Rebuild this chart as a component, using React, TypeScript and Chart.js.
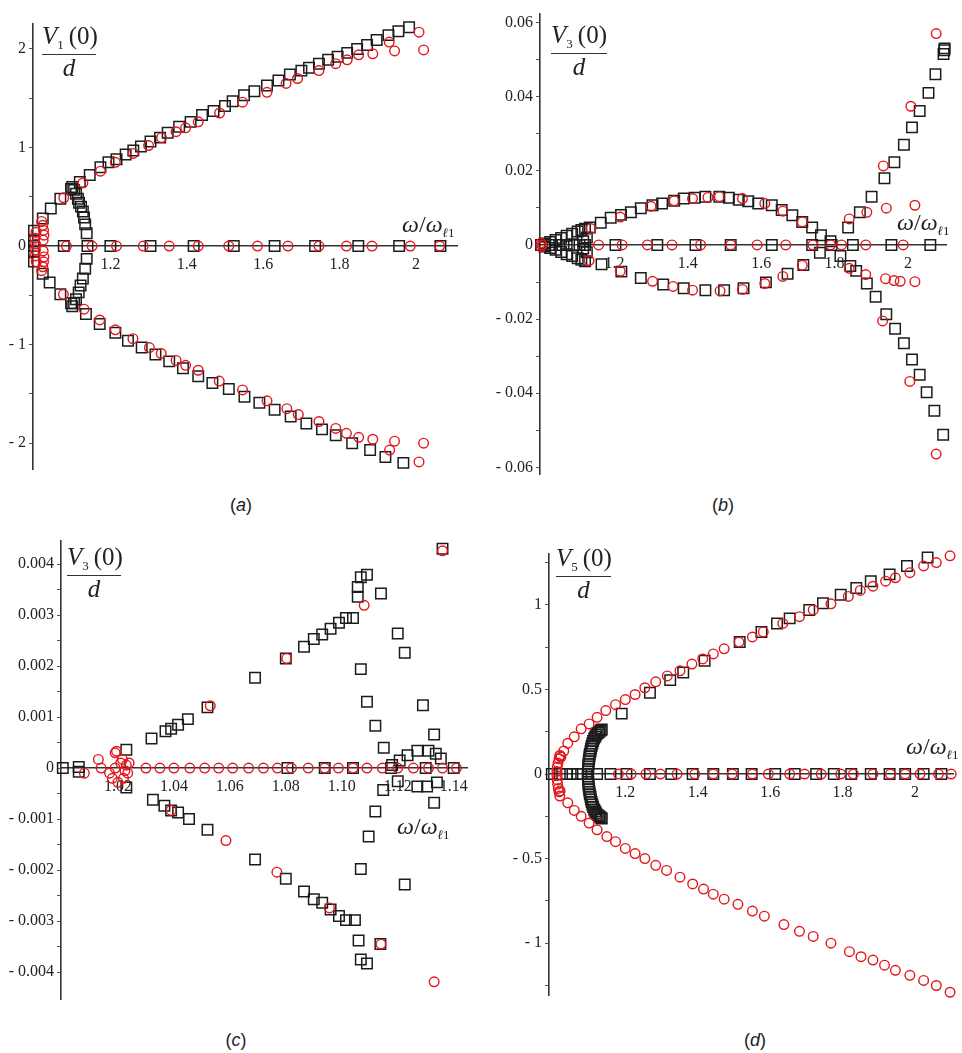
import React, { useEffect, useRef } from "react";
import { Chart, registerables } from "chart.js";
Chart.register(...registerables);

type Pt = [number, number];

const SERIF = "'Liberation Serif', 'Times New Roman', serif";
const SANS = "'Liberation Sans', Arial, sans-serif";
const RED = "#e3161b";
const INK = "#1c1c1c";

Chart.defaults.font.family = SERIF;

// ---------------- panel (a) ----------------
const aXTicks = [1.2, 1.4, 1.6, 1.8, 2];
const aYTicks = [-2, -1.5, -1, -0.5, 0, 0.5, 1, 1.5, 2];
const aYLabels = [-2, -1, 0, 1, 2];
const aSquaresUpper: Pt[] = [
  [1.0, 0.06], [1.0, 0.156], [1.023, 0.28], [1.044, 0.38], [1.069, 0.48], [1.097, 0.58], [1.12, 0.65],
  [1.146, 0.72], [1.174, 0.8], [1.195, 0.85], [1.216, 0.88], [1.24, 0.93], [1.26, 0.97], [1.28, 1.01],
  [1.305, 1.06], [1.33, 1.1], [1.35, 1.15], [1.38, 1.21], [1.41, 1.26], [1.44, 1.33], [1.47, 1.37],
  [1.5, 1.42], [1.52, 1.47], [1.55, 1.53], [1.577, 1.57], [1.61, 1.63], [1.64, 1.68], [1.67, 1.74],
  [1.7, 1.78], [1.72, 1.81], [1.746, 1.85], [1.77, 1.89], [1.795, 1.92], [1.82, 1.96], [1.846, 2.0],
  [1.872, 2.04], [1.897, 2.09], [1.928, 2.14], [1.954, 2.18], [1.982, 2.22],
];
const aSquaresLoop: Pt[] = [
  [1.1, 0.6], [1.105, 0.57], [1.11, 0.53], [1.115, 0.48], [1.118, 0.44], [1.123, 0.4], [1.128, 0.35],
  [1.131, 0.29], [1.134, 0.22], [1.138, 0.13], [1.138, -0.13], [1.134, -0.23], [1.128, -0.33],
  [1.122, -0.4], [1.117, -0.47], [1.11, -0.54], [1.105, -0.58], [1.1, -0.61],
];
const aSquaresLower: Pt[] = [
  [1.0, -0.06], [1.0, -0.156], [1.023, -0.28], [1.041, -0.37], [1.069, -0.49], [1.097, -0.58],
  [1.136, -0.69], [1.172, -0.79], [1.213, -0.88], [1.246, -0.96], [1.282, -1.03], [1.318, -1.1],
  [1.354, -1.17], [1.39, -1.24], [1.43, -1.32], [1.467, -1.39], [1.51, -1.45], [1.551, -1.53],
  [1.59, -1.59], [1.63, -1.66], [1.672, -1.73], [1.713, -1.8], [1.754, -1.86], [1.79, -1.92],
  [1.833, -2.0], [1.88, -2.07], [1.92, -2.14], [1.967, -2.2],
];
const aSquaresAxisX = [1.0, 1.078, 1.14, 1.2, 1.305, 1.418, 1.523, 1.63, 1.736, 1.849, 1.956, 2.064];
const aCirclesUpper: Pt[] = [
  [1.078, 0.49], [1.128, 0.64], [1.174, 0.76], [1.213, 0.85], [1.26, 0.94], [1.3, 1.02], [1.334, 1.1],
  [1.372, 1.16], [1.397, 1.2], [1.43, 1.26], [1.486, 1.35], [1.546, 1.46], [1.61, 1.56], [1.66, 1.65],
  [1.69, 1.7], [1.746, 1.78], [1.79, 1.85], [1.82, 1.89], [1.85, 1.94], [1.887, 1.95], [1.93, 2.07],
  [1.944, 1.98], [2.008, 2.17], [2.02, 1.99],
];
const aCirclesLower: Pt[] = [
  [1.077, -0.49], [1.131, -0.64], [1.172, -0.75], [1.213, -0.85], [1.259, -0.94], [1.302, -1.03],
  [1.333, -1.09], [1.372, -1.16], [1.397, -1.21], [1.43, -1.26], [1.485, -1.37], [1.546, -1.46],
  [1.61, -1.57], [1.662, -1.65], [1.692, -1.71], [1.746, -1.78], [1.79, -1.85], [1.818, -1.9],
  [1.85, -1.94], [1.887, -1.96], [1.931, -2.07], [1.944, -1.98], [2.008, -2.19], [2.02, -2.0],
];
const aCirclesCluster: Pt[] = [
  [1.004, 0.02], [1.003, 0.08], [1.005, 0.14], [1.02, 0.25], [1.023, 0.21], [1.025, 0.16], [1.026, 0.11],
  [1.024, 0.06], [1.004, -0.04], [1.003, -0.1], [1.006, -0.16], [1.02, -0.25], [1.023, -0.21],
  [1.025, -0.16], [1.026, -0.11], [1.024, -0.05],
];
const aCirclesAxisX = [1.085, 1.152, 1.216, 1.286, 1.354, 1.43, 1.51, 1.585, 1.665, 1.746, 1.818, 1.885, 1.985, 2.062];

// ---------------- panel (b) ----------------
const bXTicks = [1.2, 1.4, 1.6, 1.8, 2];
const bYTicks = [-0.06, -0.05, -0.04, -0.03, -0.02, -0.01, 0, 0.01, 0.02, 0.03, 0.04, 0.05, 0.06];
const bYLabels = [-0.06, -0.04, -0.02, 0, 0.02, 0.04, 0.06];
const bSquaresUpper: Pt[] = [
  [1.133, 0.0047], [1.163, 0.006], [1.19, 0.0073], [1.218, 0.0081], [1.245, 0.0088], [1.272, 0.0099],
  [1.304, 0.0107], [1.33, 0.0112], [1.363, 0.0119], [1.389, 0.0125], [1.419, 0.0127], [1.448, 0.013],
  [1.486, 0.013], [1.512, 0.0127], [1.539, 0.0122], [1.565, 0.0118], [1.592, 0.0112], [1.629, 0.0107],
  [1.656, 0.0094], [1.685, 0.008], [1.712, 0.0062], [1.739, 0.0047], [1.763, 0.0026], [1.789, 0.001],
];
const bSquaresLower: Pt[] = [
  [1.165, -0.0052], [1.219, -0.0072], [1.272, -0.0089], [1.333, -0.0107], [1.389, -0.0117],
  [1.448, -0.0122], [1.499, -0.0122], [1.552, -0.0117], [1.613, -0.0101], [1.672, -0.0078],
  [1.715, -0.0054], [1.76, -0.0021], [1.816, -0.003],
];
const bSquaresRightUp: Pt[] = [
  [1.837, 0.0047], [1.869, 0.0088], [1.901, 0.013], [1.936, 0.018], [1.963, 0.0223], [1.989, 0.027],
  [2.011, 0.0317], [2.032, 0.0361], [2.056, 0.041], [2.075, 0.046], [2.097, 0.0515], [2.099, 0.0525],
  [2.1, 0.053],
];
const bSquaresRightDown: Pt[] = [
  [1.843, -0.0057], [1.859, -0.007], [1.888, -0.0104], [1.912, -0.014], [1.941, -0.0187],
  [1.965, -0.0226], [1.989, -0.0265], [2.011, -0.0309], [2.032, -0.035], [2.051, -0.0397],
  [2.072, -0.0447], [2.096, -0.0512],
];
const bSquaresCluster: Pt[] = [
  [1.0, 0], [1.01, 0.0004], [1.01, -0.0004], [1.025, 0.0008], [1.025, -0.0008], [1.04, 0.0013],
  [1.04, -0.0013], [1.055, 0.0019], [1.055, -0.0019], [1.07, 0.0025], [1.07, -0.0025], [1.085, 0.003],
  [1.085, -0.003], [1.1, 0.0036], [1.1, -0.0036], [1.11, 0.004], [1.11, -0.004], [1.12, 0.0044],
  [1.12, -0.0044], [1.03, 0], [1.05, 0], [1.07, 0], [1.09, 0], [1.105, 0], [1.12, 0], [1.125, 0.002],
  [1.125, -0.002], [1.115, 0.001], [1.115, -0.001],
];
const bSquaresAxisX = [1.203, 1.317, 1.421, 1.517, 1.629, 1.739, 1.792, 1.85, 1.955, 2.061];
const bCirclesUpper: Pt[] = [
  [1.136, 0.0044], [1.216, 0.0075], [1.3, 0.0104], [1.363, 0.0119], [1.413, 0.0125], [1.455, 0.0128],
  [1.486, 0.013], [1.549, 0.0125], [1.61, 0.0112], [1.659, 0.0091], [1.712, 0.0062], [1.84, 0.007],
  [1.888, 0.0088], [1.933, 0.0213], [1.941, 0.0099], [2.008, 0.0374], [2.019, 0.0107], [2.077, 0.057],
];
const bCirclesLower: Pt[] = [
  [1.131, -0.0042], [1.216, -0.0071], [1.304, -0.0098], [1.36, -0.0112], [1.413, -0.0122],
  [1.488, -0.0124], [1.549, -0.012], [1.61, -0.0104], [1.659, -0.0085], [1.712, -0.0055],
  [1.84, -0.0063], [1.885, -0.008], [1.931, -0.0205], [1.939, -0.0091], [1.962, -0.0096],
  [1.979, -0.0098], [2.005, -0.0368], [2.019, -0.0099], [2.077, -0.0564],
];
const bCirclesOrigin: Pt[] = [[1.0, 0.0005], [1.0, -0.0005], [1.002, 0]];
const bCirclesAxisX = [1.157, 1.221, 1.29, 1.357, 1.435, 1.517, 1.589, 1.667, 1.741, 1.789, 1.819, 1.885, 1.987];

// ---------------- panel (c) ----------------
const cXTicks = [1.02, 1.04, 1.06, 1.08, 1.1, 1.12, 1.14];
const cYTicks = [-0.004, -0.0035, -0.003, -0.0025, -0.002, -0.0015, -0.001, -0.0005, 0, 0.0005, 0.001, 0.0015, 0.002, 0.0025, 0.003, 0.0035, 0.004];
const cYLabels = [-0.004, -0.003, -0.002, -0.001, 0, 0.001, 0.002, 0.003, 0.004];
const cSquaresUpper: Pt[] = [
  [1.0003, 0], [1.006, 0.00002], [1.006, -0.00007], [1.023, 0.00036], [1.032, 0.00058], [1.037, 0.00072],
  [1.039, 0.00077], [1.0415, 0.00085], [1.045, 0.00096], [1.052, 0.00119], [1.069, 0.00177],
  [1.08, 0.00215], [1.0865, 0.00238], [1.09, 0.00253], [1.093, 0.00262], [1.096, 0.00273],
  [1.099, 0.00285], [1.1015, 0.00294], [1.104, 0.00294], [1.1057, 0.00336], [1.1057, 0.00355],
  [1.1068, 0.00374], [1.109, 0.00379], [1.114, 0.00342], [1.12, 0.00264], [1.1225, 0.00226],
  [1.1068, 0.00194], [1.109, 0.0013], [1.112, 0.00083], [1.115, 0.0004], [1.129, 0.00123],
  [1.133, 0.00066], [1.136, 0.0043], [1.118, 0.00006], [1.1207, 0.00015], [1.1235, 0.00025],
  [1.127, 0.00034], [1.131, 0.00034], [1.1336, 0.00028], [1.1354, 0.00019],
];
const cSquaresLower: Pt[] = [
  [1.023, -0.00038], [1.0325, -0.00062], [1.0366, -0.00074], [1.039, -0.00083], [1.0415, -0.00087],
  [1.0454, -0.001], [1.052, -0.00121], [1.069, -0.00179], [1.08, -0.00217], [1.0865, -0.00242],
  [1.09, -0.00257], [1.093, -0.00264], [1.096, -0.00277], [1.099, -0.0029], [1.1015, -0.00298],
  [1.1047, -0.00298], [1.106, -0.00338], [1.1068, -0.00375], [1.109, -0.00383], [1.1138, -0.00345],
  [1.1068, -0.00198], [1.1096, -0.00134], [1.112, -0.00085], [1.1148, -0.00043], [1.1225, -0.00228],
  [1.133, -0.00068], [1.12, -0.00026], [1.127, -0.00036], [1.1305, -0.00036], [1.134, -0.00028],
];
const cSquaresAxisX = [1.0806, 1.0939, 1.104, 1.1176, 1.13, 1.14];
const cCirclesAxisX = [
  1.014, 1.019, 1.03, 1.035, 1.04, 1.0457, 1.051, 1.056, 1.061, 1.0667, 1.072, 1.077, 1.082, 1.088,
  1.0939, 1.0988, 1.104, 1.109, 1.1145, 1.12, 1.1256, 1.131, 1.136, 1.141,
];
const cCirclesCluster: Pt[] = [
  [1.008, -0.0001], [1.013, 0.00017], [1.019, 0.0003], [1.0195, 0.00033], [1.0216, 0.00017],
  [1.023, 0.00006], [1.018, -0.0002], [1.02, -0.00028], [1.022, -0.0002], [1.0235, -0.0001],
  [1.021, 0.0001], [1.024, 0.0001], [1.0225, -0.00005], [1.017, -0.0001],
];
const cCirclesOther: Pt[] = [
  [1.053, 0.00122], [1.0803, 0.00215], [1.108, 0.00319], [1.136, 0.00426], [1.039, -0.00083],
  [1.0586, -0.00142], [1.0768, -0.00204], [1.0956, -0.00274], [1.114, -0.00345], [1.133, -0.00419],
];

// ---------------- panel (d) ----------------
const dXTicks = [1.2, 1.4, 1.6, 1.8, 2];
const dYTicks = [-1.25, -1, -0.75, -0.5, -0.25, 0, 0.25, 0.5, 0.75, 1, 1.25];
const dYLabels = [-1, -0.5, 0, 0.5, 1];
const dCirclesUpper: Pt[] = [
  [1.019, 0.108], [1.03, 0.136], [1.041, 0.182], [1.059, 0.22], [1.078, 0.267], [1.1, 0.296],
  [1.122, 0.335], [1.146, 0.375], [1.173, 0.41], [1.2, 0.44], [1.227, 0.47], [1.254, 0.51],
  [1.284, 0.545], [1.316, 0.58], [1.351, 0.61], [1.384, 0.65], [1.414, 0.68], [1.443, 0.71],
  [1.473, 0.74], [1.514, 0.78], [1.551, 0.81], [1.581, 0.84], [1.635, 0.89], [1.681, 0.93],
  [1.719, 0.97], [1.768, 1.006], [1.816, 1.05], [1.849, 1.085], [1.884, 1.11], [1.919, 1.14],
  [1.946, 1.16], [1.986, 1.19], [2.024, 1.23], [2.059, 1.25], [2.097, 1.29],
];
const dCirclesLower: Pt[] = [
  [1.019, -0.13], [1.041, -0.17], [1.059, -0.215], [1.078, -0.25], [1.1, -0.29], [1.122, -0.33],
  [1.149, -0.37], [1.173, -0.4], [1.2, -0.44], [1.227, -0.47], [1.254, -0.5], [1.284, -0.54],
  [1.314, -0.57], [1.351, -0.61], [1.386, -0.65], [1.416, -0.68], [1.443, -0.71], [1.473, -0.74],
  [1.511, -0.77], [1.551, -0.81], [1.584, -0.84], [1.638, -0.89], [1.681, -0.93], [1.719, -0.96],
  [1.768, -1.0], [1.819, -1.05], [1.851, -1.08], [1.884, -1.1], [1.916, -1.13], [1.946, -1.16],
  [1.986, -1.19], [2.024, -1.22], [2.059, -1.25], [2.097, -1.29],
];
const dCirclesCluster: Pt[] = [
  [1.02, 0.11], [1.017, 0.09], [1.014, 0.065], [1.012, 0.04], [1.011, 0.015], [1.011, -0.01],
  [1.012, -0.035], [1.013, -0.06], [1.015, -0.085], [1.017, -0.105], [1.022, 0.1], [1.02, -0.1],
];
const dCirclesAxisX = [
  1.181, 1.216, 1.257, 1.297, 1.343, 1.392, 1.443, 1.495, 1.551, 1.595, 1.654, 1.695, 1.741, 1.795,
  1.83, 1.884, 1.932, 1.973, 2.014, 2.065, 2.1,
];
const dSquaresUpper: Pt[] = [
  [1.19, 0.357], [1.268, 0.48], [1.324, 0.555], [1.36, 0.6], [1.419, 0.67], [1.516, 0.78], [1.576, 0.84],
  [1.619, 0.89], [1.654, 0.92], [1.708, 0.97], [1.746, 1.01], [1.795, 1.06], [1.838, 1.1], [1.878, 1.14],
  [1.93, 1.18], [1.978, 1.23], [2.035, 1.28],
];
const dSquaresArc: Pt[] = [
  [1.096, 0], [1.097, 0.015], [1.097, 0.03], [1.098, 0.045], [1.098, 0.06], [1.099, 0.075], [1.1, 0.09],
  [1.101, 0.105], [1.102, 0.12], [1.104, 0.135], [1.105, 0.15], [1.107, 0.165], [1.109, 0.18],
  [1.111, 0.195], [1.114, 0.21], [1.117, 0.222], [1.12, 0.233], [1.124, 0.243], [1.128, 0.25],
  [1.132, 0.257], [1.135, 0.263],
  [1.097, -0.015], [1.097, -0.03], [1.098, -0.045], [1.098, -0.06], [1.099, -0.075], [1.1, -0.09],
  [1.101, -0.105], [1.102, -0.12], [1.104, -0.135], [1.105, -0.15], [1.107, -0.165], [1.109, -0.18],
  [1.111, -0.195], [1.114, -0.21], [1.117, -0.222], [1.12, -0.233], [1.124, -0.243], [1.128, -0.25],
  [1.132, -0.257], [1.135, -0.263],
];
const dSquaresAxisX = [
  0.997, 1.019, 1.038, 1.054, 1.068, 1.078, 1.122, 1.159, 1.203, 1.268, 1.327, 1.386, 1.443, 1.497,
  1.549, 1.614, 1.668, 1.727, 1.776, 1.824, 1.878, 1.93, 1.973, 2.024, 2.073,
];

const onAxis = (xs: number[]): Pt[] => xs.map((x) => [x, 0] as Pt);

interface PanelCfg {
  left: number; top: number; width: number; height: number; yAxisW: number;
  xMin: number; xMax: number; yMin: number; yMax: number;
  xTicks: number[]; yTicks: number[]; yLabels: number[]; xFixed?: number;
  squares: Pt[]; circles: Pt[];
}

const panels: PanelCfg[] = [
  {
    left: 0, top: 15, width: 466, height: 463, yAxisW: 33,
    xMin: 0.9974, xMax: 2.1077, yMin: -2.263, yMax: 2.254,
    xTicks: aXTicks, yTicks: aYTicks, yLabels: aYLabels,
    squares: [...aSquaresUpper, ...aSquaresLoop, ...aSquaresLower, ...onAxis(aSquaresAxisX)],
    circles: [...aCirclesUpper, ...aCirclesLower, ...aCirclesCluster, ...onAxis(aCirclesAxisX)],
  },
  {
    left: 490, top: 5, width: 465, height: 478, yAxisW: 50,
    xMin: 0.9973, xMax: 2.104, yMin: -0.0618, yMax: 0.0623,
    xTicks: bXTicks, yTicks: bYTicks, yLabels: bYLabels,
    squares: [...bSquaresUpper, ...bSquaresLower, ...bSquaresRightUp, ...bSquaresRightDown, ...bSquaresCluster, ...onAxis(bSquaresAxisX)],
    circles: [...bCirclesUpper, ...bCirclesLower, ...bCirclesOrigin, ...onAxis(bCirclesAxisX)],
  },
  {
    left: 0, top: 532, width: 477, height: 476, yAxisW: 61,
    xMin: 0.99965, xMax: 1.1448, yMin: -0.004528, yMax: 0.004453,
    xTicks: cXTicks, yTicks: cYTicks, yLabels: cYLabels, xFixed: 2,
    squares: [...cSquaresUpper, ...cSquaresLower, ...onAxis(cSquaresAxisX)],
    circles: [...onAxis(cCirclesAxisX), ...cCirclesCluster, ...cCirclesOther],
  },
  {
    left: 500, top: 545, width: 462, height: 459, yAxisW: 49,
    xMin: 0.98919, xMax: 2.1054, yMin: -1.3068, yMax: 1.3011,
    xTicks: dXTicks, yTicks: dYTicks, yLabels: dYLabels,
    squares: [...dSquaresUpper, ...dSquaresArc, ...onAxis(dSquaresAxisX)],
    circles: [...dCirclesUpper, ...dCirclesLower, ...dCirclesCluster, ...onAxis(dCirclesAxisX)],
  },
];

const fmtY = (v: number) => (v === 0 ? "0" : (v < 0 ? "- " : "") + String(Math.abs(v)));

function Panel({ cfg }: { cfg: PanelCfg }) {
  const ref = useRef<HTMLCanvasElement>(null);
  useEffect(() => {
    const c = cfg;
    const chart = new Chart(ref.current as HTMLCanvasElement, {
      type: "scatter",
      data: {
        datasets: [
          {
            data: c.circles.map(([x, y]) => ({ x, y })),
            pointStyle: "circle", pointRadius: 4.8, borderColor: RED, borderWidth: 1.4,
            backgroundColor: "rgba(0,0,0,0)", clip: false,
          } as any,
          {
            data: c.squares.map(([x, y]) => ({ x, y })),
            pointStyle: "rect", pointRadius: 7.4, borderColor: INK, borderWidth: 1.5,
            backgroundColor: "rgba(0,0,0,0)", clip: false,
          } as any,
        ],
      },
      options: {
        animation: false, responsive: false, maintainAspectRatio: false, events: [],
        layout: { padding: 0 },
        plugins: { legend: { display: false }, tooltip: { enabled: false } },
        scales: {
          x: {
            type: "linear", min: c.xMin, max: c.xMax, position: { y: 0 } as any,
            afterBuildTicks: (ax: any) => { ax.ticks = c.xTicks.map((v) => ({ value: v })); },
            ticks: {
              font: { family: SERIF, size: 16 }, color: "#222", padding: 9, autoSkip: false, maxRotation: 0,
              callback: (v: any) => (c.xFixed ? Number(v).toFixed(c.xFixed) : String(v)),
            },
            grid: { display: false, drawTicks: false },
            border: { display: true, color: "#333", width: 1.4 },
          },
          y: {
            type: "linear", min: c.yMin, max: c.yMax, position: "left",
            afterBuildTicks: (ax: any) => { ax.ticks = c.yTicks.map((v) => ({ value: v })); },
            afterFit: (s: any) => { s.width = c.yAxisW; s.paddingTop = 0; s.paddingBottom = 0; },
            ticks: {
              font: { family: SERIF, size: 16 }, color: "#222", padding: 3, autoSkip: false,
              callback: (v: any) => (c.yLabels.includes(Number(v)) ? fmtY(Number(v)) : ""),
            },
            grid: { display: true, drawOnChartArea: false, drawTicks: true, tickLength: 4, color: "#555", lineWidth: 1 },
            border: { display: true, color: "#333", width: 1.6 },
          },
        },
      } as any,
    });
    return () => chart.destroy();
  }, []);
  return (
    <canvas
      ref={ref}
      width={cfg.width}
      height={cfg.height}
      style={{ position: "absolute", left: cfg.left, top: cfg.top, width: cfg.width, height: cfg.height }}
    />
  );
}

function Frac({ left, top, width, sub }: { left: number; top: number; width: number; sub: string }) {
  return (
    <div style={{ position: "absolute", left, top, width, fontFamily: SERIF, fontSize: 25, color: "#222", textAlign: "center" }}>
      <div style={{ lineHeight: "28px", borderBottom: "1.4px solid #333", whiteSpace: "nowrap" }}>
        <i>V</i>
        <span style={{ fontSize: 13, position: "relative", top: 5 }}>{sub}</span>
        {"\u2009"}(0)
      </div>
      <div style={{ lineHeight: "26px", fontStyle: "italic" }}>d</div>
    </div>
  );
}

function Omega({ left, top }: { left: number; top: number }) {
  return (
    <div style={{ position: "absolute", left, top, fontFamily: SERIF, fontSize: 24, lineHeight: "24px", color: "#222", whiteSpace: "nowrap" }}>
      <i>ω</i>/<i>ω</i>
      <span style={{ fontSize: 13, position: "relative", top: 5 }}>
        <i>ℓ</i>1
      </span>
    </div>
  );
}

function Caption({ cx, top, letter }: { cx: number; top: number; letter: string }) {
  return (
    <div style={{ position: "absolute", left: cx - 30, top, width: 60, textAlign: "center", fontFamily: SANS, fontSize: 18, lineHeight: "20px", color: "#222" }}>
      (<i>{letter}</i>)
    </div>
  );
}

export default function App() {
  return (
    <div style={{ position: "absolute", left: 0, top: 0, width: 962, height: 1053, overflow: "hidden", background: "#fff" }}>
      {panels.map((p, i) => (
        <Panel key={i} cfg={p} />
      ))}
      <Frac left={42} top={22} width={54} sub="1" />
      <Frac left={551} top={21} width={56} sub="3" />
      <Frac left={67} top={543} width={54} sub="3" />
      <Frac left={556} top={544} width={55} sub="5" />
      <Omega left={402} top={212} />
      <Omega left={897} top={210} />
      <Omega left={397} top={814} />
      <Omega left={906} top={734} />
      <Caption cx={241} top={495} letter="a" />
      <Caption cx={723} top={495} letter="b" />
      <Caption cx={236} top={1030} letter="c" />
      <Caption cx={755} top={1030} letter="d" />
    </div>
  );
}
